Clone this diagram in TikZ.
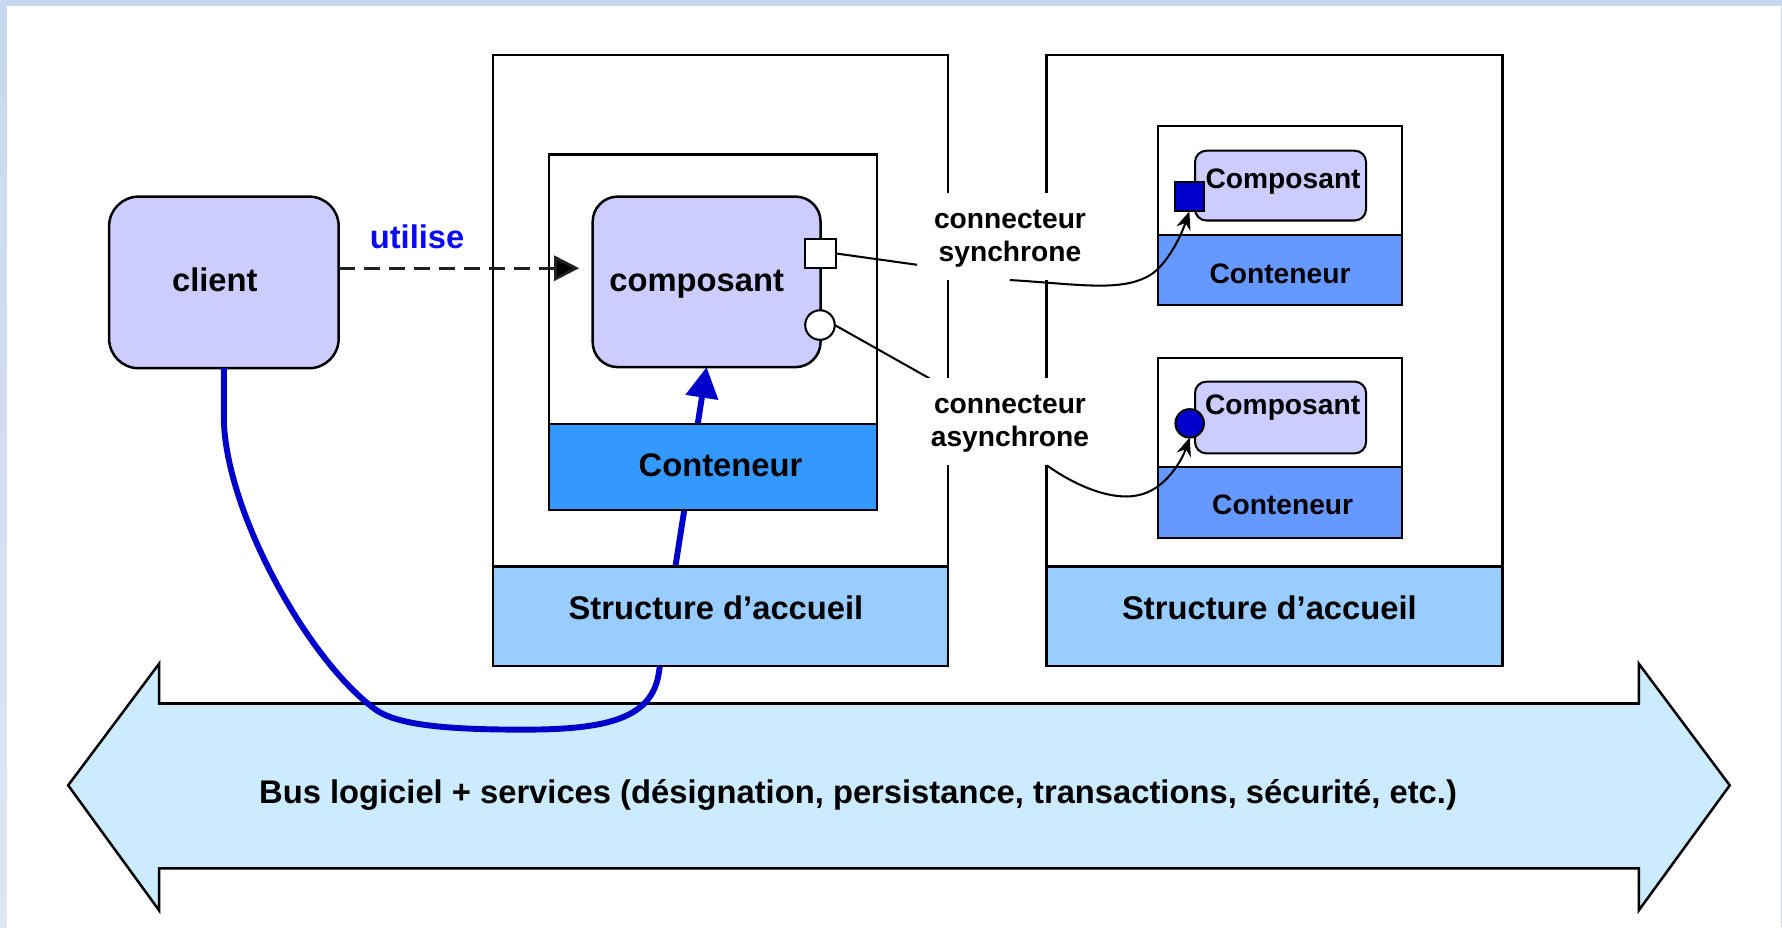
\documentclass[tikz,border=0pt]{standalone}
\usepackage{fontspec}
\setmainfont{Liberation Sans}
\usetikzlibrary{arrows.meta}
\definecolor{compfill}{HTML}{CCCCFF}
\definecolor{contA}{HTML}{3399FF}
\definecolor{contB}{HTML}{6699FF}
\definecolor{structfill}{HTML}{99CCFF}
\definecolor{busfill}{HTML}{CCEBFF}
\definecolor{pathblue}{HTML}{0000CC}
\definecolor{frameA}{HTML}{C6D8EF}
\definecolor{frameB}{HTML}{DFE6F2}
\definecolor{utiliseblue}{HTML}{0A0AF5}
\definecolor{dashgray}{HTML}{222222}
\begin{document}
\begin{tikzpicture}[x=0.5pt,y=-0.5pt,
  box/.style={draw=black, line width=1.1pt, inner sep=0pt, outer sep=0pt},
  sbox/.style={box, line width=0.9pt},
  mainfont/.style={font=\bfseries\fontsize{14.4}{17}\selectfont},
  smallfont/.style={font=\bfseries\fontsize{12.4}{14.5}\selectfont},
  txt/.style={inner sep=0pt, anchor=base},
  mask/.style={fill=white, inner sep=0pt, minimum width=73.5pt, minimum height=38pt},
  thinline/.style={draw=black, line width=0.9pt},
  dashline/.style={draw=dashgray, line width=1.2pt, dash pattern=on 7pt off 4pt, -{Triangle[length=11pt,width=11pt,fill=black]}},
  bluepath/.style={draw=pathblue, line width=2.6pt, -{Triangle[length=13.5pt,width=14pt]}},
  curvearrow/.style={thinline, -{Stealth[length=8pt,width=6.5pt]}}
]
\useasboundingbox (0,0) rectangle (1568,816);
% background and frame
\fill[white] (0,0) rectangle (1568,816);
\fill[frameA] (0,0) rectangle (1568,5.3);
\shade[top color=frameA, bottom color=frameB] (0,5.3) rectangle (5.9,816);
\fill[frameA] (1566.8,0) rectangle (1568,816);

% bus
\draw[line width=1.1pt, fill=busfill, line join=miter]
  (60,691) -- (140,584) -- (140,619) -- (1442,619) -- (1442,584) -- (1522,691)
  -- (1442,801) -- (1442,764) -- (140,764) -- (140,801) -- cycle;

% host structures
\node[box, fill=white, minimum width=200pt, minimum height=268.8pt] (host1) at (634,317.2) {};
\node[box, fill=white, minimum width=200.5pt, minimum height=268.8pt] (host2) at (1121.5,317.2) {};

% containers
\node[box, fill=white, minimum width=144.25pt, minimum height=156.45pt] (cont1) at (627.25,292.25) {};
\node[sbox, fill=white, minimum width=107.5pt, minimum height=78.75pt] (cont2) at (1126.5,189.65) {};
\node[sbox, fill=white, minimum width=107.5pt, minimum height=79.25pt] (cont3) at (1126.5,394.25) {};

% client and main component
\node[box, fill=compfill, rounded corners=13pt, minimum width=101pt, minimum height=75.5pt] (client) at (197,248.5) {};
\node[box, fill=compfill, rounded corners=11pt, minimum width=100.25pt, minimum height=75pt] (comp1) at (621.75,248) {};

% blue path (behind bands)
\draw[bluepath] (client.south) -- (197,370) .. controls (199,450) and (270,580) .. (330,624)
  .. controls (350,639) and (400,642) .. (461,642)
  .. controls (535,642) and (575,632) .. (580,590) -- (comp1.south);

% bands
\node[box, fill=structfill, minimum width=200pt, minimum height=43.75pt] (struct1) at (634,542.25) {};
\node[box, fill=structfill, minimum width=200.5pt, minimum height=43.75pt] (struct2) at (1121.5,542.25) {};
\node[box, fill=contA, minimum width=144.25pt, minimum height=37.85pt] (cband1) at (627.25,410.85) {};
\node[sbox, fill=contB, minimum width=107.5pt, minimum height=30.8pt] (cband2) at (1126.5,237.6) {};
\node[sbox, fill=contB, minimum width=107.5pt, minimum height=31.45pt] (cband3) at (1126.5,442.05) {};

% right components
\node[sbox, fill=compfill, rounded corners=5pt, minimum width=75.25pt, minimum height=30.7pt] (comp2) at (1126.75,163.3) {};
\node[sbox, fill=compfill, rounded corners=5pt, minimum width=75.25pt, minimum height=31.55pt] (comp3) at (1126.75,367.35) {};

% ports
\node[sbox, fill=white, minimum width=13.5pt, minimum height=13pt] (sq1) at (722,223) {};
\node[sbox, circle, fill=white, minimum size=13pt] (circ1) at (721.5,286) {};
\node[sbox, fill=pathblue, minimum width=12.5pt, minimum height=13pt] (sq2) at (1046.5,173) {};
\node[sbox, circle, fill=pathblue, minimum size=12.5pt] (circ2) at (1046.8,372.5) {};

% dashed "utilise" arrow
\coordinate (utip) at (509.6,236);
\draw[dashline] (client.east) ++(0,-12.5) -- (utip);

% port lines
\coordinate (sqend) at (807,233);
\coordinate (circend) at (818,333);
\draw[thinline] (sq1.east) -- (sqend);
\draw[thinline] (circ1.east) -- (circend);

% label masks
\node[mask] (lsync) at (888.5,208) {};
\node[mask] (lasync) at (888.5,371) {};

% connector curves
\draw[curvearrow] (lsync.south) .. controls (950,250) and (990,258) .. (1015,240)
  .. controls (1030,228) and (1040,205) .. (sq2.south);
\draw[curvearrow] (lasync.south -| host2.west) .. controls (950,430) and (980,440) .. (1000,436)
  .. controls (1025,432) and (1040,405) .. (circ2.south);

% texts
\node[txt, mainfont] (tclient) at (189,256.6) {client};
\node[txt, mainfont, text=utiliseblue] (tutilise) at (367,218.6) {utilise};
\node[txt, mainfont] (tcomp1) at (613,256.6) {composant};
\node[txt, mainfont] (tcband1) at (634,419.4) {Conteneur};
\node[txt, mainfont] (tstruct1) at (630,545.5) {Structure d’accueil};
\node[txt, mainfont] (tstruct2) at (1117,545.5) {Structure d’accueil};
\node[txt, smallfont] (tsync1) at (888.7,201) {connecteur};
\node[txt, smallfont] (tsync2) at (888.7,230) {synchrone};
\node[txt, smallfont] (tasync1) at (888.7,363.6) {connecteur};
\node[txt, smallfont] (tasync2) at (888.7,393) {asynchrone};
\node[txt, smallfont] (tcomp2) at (1129,165.7) {Composant};
\node[txt, smallfont] (tcband2) at (1126.3,249.3) {Conteneur};
\node[txt, smallfont] (tcomp3) at (1128.6,365) {Composant};
\node[txt, smallfont] (tcband3) at (1128.6,453) {Conteneur};
\node[txt, mainfont] (tbus) at (755,706.7) {Bus logiciel + services (désignation, persistance, transactions, sécurité, etc.)};
\end{tikzpicture}
\end{document}
